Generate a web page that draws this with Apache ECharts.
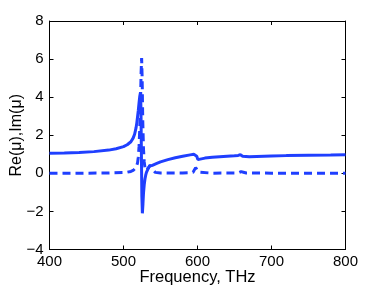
<!DOCTYPE html>
<html><head><meta charset="utf-8">
<script src="https://cdn.jsdelivr.net/npm/echarts@6/dist/echarts.min.js"></script>
<style>html,body{margin:0;padding:0;background:#fff}#c{width:382px;height:287px}</style>
</head><body><div id="c"></div>
<script>
// Frequency (THz) and Re(mu)
const freqRe = [400,420,440,460,480,490,500,505,510,513,515,517,518,520,521,522,523,523.6,524.2,524.8,525.5,526.3,527,528,529,530,531,533,535,537,539,541,545,550,560,570,580,590,595,597.5,599,600.5,602.5,610,620,630,640,650,655,658,659.7,661,662.5,670,680,700,720,750,780,800];
const reMu   = [1.05,1.07,1.1,1.14,1.22,1.29,1.4,1.5,1.66,1.85,2.05,2.4,2.65,3.3,3.7,4.05,4.25,3.4,1.0,-1.2,-2.1,-1.6,-1.05,-0.6,-0.3,-0.1,0.05,0.22,0.38,0.45,0.42,0.44,0.52,0.6,0.72,0.82,0.9,0.97,1.0,1.05,0.9,0.72,0.75,0.8,0.84,0.87,0.9,0.92,0.94,0.98,1.04,0.9,0.84,0.87,0.89,0.91,0.93,0.95,0.96,0.97];
// Frequency (THz) and Im(mu)
const freqIm = [400,450,480,500,505,510,513,515,517,519,520,521,522,523,523.8,524.5,525.2,526,527,528,529,530,532,534,536,538,540,543,550,580,590,594,596,597.5,598.5,600,601.5,604,620,650,656,659,660.5,662,666,700,750,800];
const imMu   = [0.0,0.01,0.02,0.04,0.06,0.1,0.15,0.2,0.3,0.55,0.85,1.4,2.4,3.8,5.3,6.05,5.0,2.8,1.3,0.6,0.3,0.15,0.12,0.3,0.44,0.36,0.18,0.05,0.02,0.02,0.03,0.06,0.14,0.3,0.38,0.2,0.06,0.02,0.01,0.02,0.04,0.09,0.12,0.06,0.02,0.01,0.0,0.0];
const xTicks = [400,500,600,700,800];
const yTicks = [-4,-2,0,2,4,6,8];

const blue = '#1f3fff';
const pairs = (xs, ys) => xs.map((x, i) => [x, ys[i]]);
const font = 'Liberation Sans, Arial, Helvetica, sans-serif';
const axisCommon = {
  axisLine: {show: true, onZero: false, lineStyle: {color: '#000', width: 1}},
  axisTick: {show: true, inside: true, length: 4, lineStyle: {color: '#000'}},
  splitLine: {show: false}
};
const chart = echarts.init(document.getElementById('c'), null, {renderer: 'canvas'});
chart.setOption({
  animation: false,
  backgroundColor: '#fff',
  grid: {left: 49.5, right: 36.5, top: 21, bottom: 37.5, containLabel: false, outerBoundsMode: 'none'},
  xAxis: [
    Object.assign({type: 'value', min: xTicks[0], max: xTicks[xTicks.length-1], interval: 100, position: 'bottom',
      name: 'Frequency, THz', nameLocation: 'middle', nameGap: 19, nameMoveOverlap: false,
      nameTextStyle: {fontFamily: font, fontSize: 16.5, color: '#000'},
      axisLabel: {fontFamily: font, fontSize: 15, color: '#000', margin: 5}}, axisCommon),
    Object.assign({type: 'value', min: xTicks[0], max: xTicks[xTicks.length-1], interval: 100, position: 'top',
      axisLabel: {show: false}}, axisCommon)
  ],
  yAxis: [
    Object.assign({type: 'value', min: yTicks[0], max: yTicks[yTicks.length-1], interval: 2, position: 'left',
      name: 'Re(\u03bc),Im(\u03bc)', nameLocation: 'middle', nameGap: 25, nameMoveOverlap: false,
      nameTextStyle: {fontFamily: font, fontSize: 16, color: '#000'},
      axisLabel: {fontFamily: font, fontSize: 15, color: '#000', margin: 6,
        formatter: v => v < 0 ? '\u2212' + Math.abs(v) : String(v)}}, axisCommon),
    Object.assign({type: 'value', min: yTicks[0], max: yTicks[yTicks.length-1], interval: 2, position: 'right',
      axisLabel: {show: false}}, axisCommon)
  ],
  series: [
    {type: 'line', name: 'Re', xAxisIndex: 0, yAxisIndex: 0, data: pairs(freqRe, reMu), showSymbol: false,
      lineStyle: {color: blue, width: 3}, z: 3},
    {type: 'line', name: 'Im', xAxisIndex: 0, yAxisIndex: 0, data: pairs(freqIm, imMu), showSymbol: false,
      lineStyle: {color: blue, width: 3, type: [8, 5]}, z: 2}
  ]
});
</script></body></html>
